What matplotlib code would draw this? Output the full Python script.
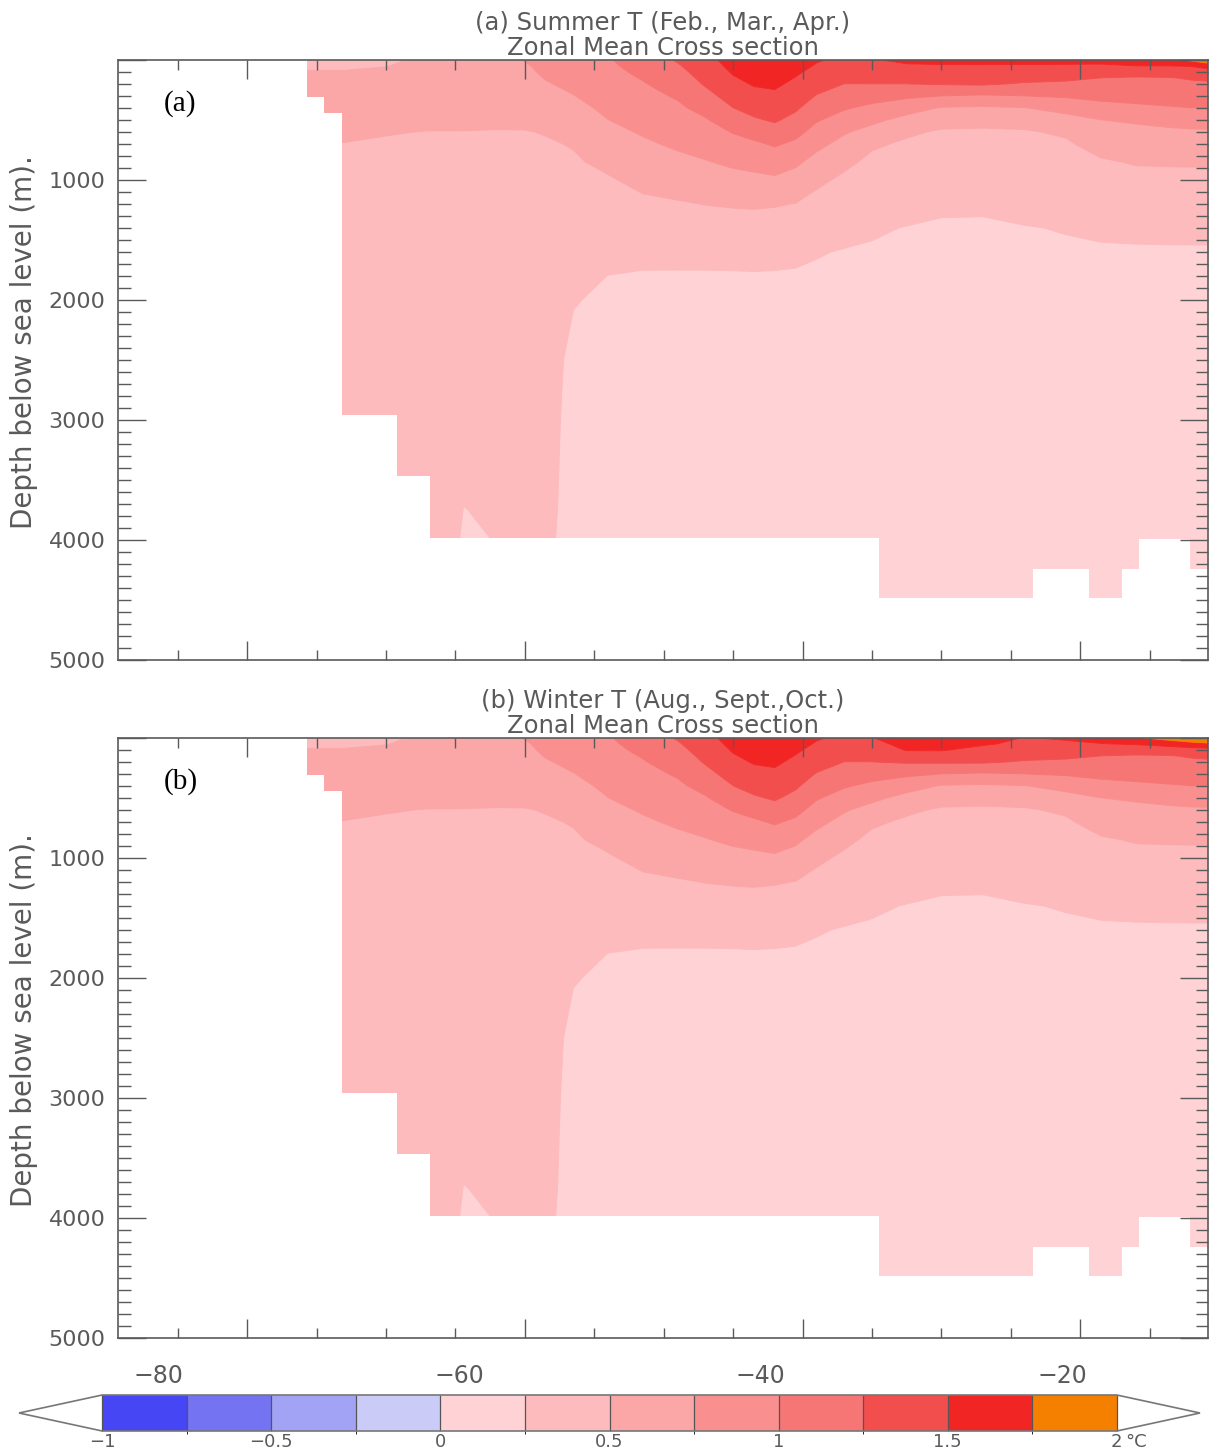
import numpy as np
import matplotlib
matplotlib.use("Agg")
import matplotlib.pyplot as plt
from matplotlib.colors import ListedColormap, BoundaryNorm
from matplotlib.ticker import MultipleLocator

# ---------------- data ----------------
# latitude columns (deg) of the temperature table
lat = [-76, -73, -70, -67, -65, -64.4, -62, -60, -58.5, -56.5,
       -54, -51.5, -49, -47, -45, -43.5, -42, -40.5, -39, -37,
       -35, -32.5, -30, -27, -24, -21, -18.5, -16, -13.5, -12, -10.5]

# depth rows (m)
depth_upper = [0, 50, 100, 150, 200, 300, 400, 500, 600, 700, 850, 1000]
depth_deep = [1200, 1400, 1600, 1800, 2000, 2500, 3000, 3500, 3750, 4000, 4600]

# upper-ocean temperature anomaly (deg C), one list per latitude column
summer_upper = [
    [0.40, 0.45, 0.52, 0.58, 0.61, 0.62, 0.60, 0.57, 0.535, 0.495, 0.47, 0.45],
    [0.40, 0.45, 0.52, 0.58, 0.61, 0.62, 0.60, 0.57, 0.535, 0.495, 0.47, 0.45],
    [0.45, 0.49, 0.56, 0.60, 0.62, 0.62, 0.60, 0.56, 0.51, 0.48, 0.45, 0.43],
    [0.56, 0.60, 0.62, 0.63, 0.63, 0.62, 0.60, 0.55, 0.495, 0.47, 0.45, 0.43],
    [0.62, 0.64, 0.65, 0.65, 0.64, 0.62, 0.59, 0.55, 0.495, 0.47, 0.44, 0.42],
    [0.64, 0.65, 0.66, 0.65, 0.64, 0.62, 0.59, 0.545, 0.495, 0.47, 0.44, 0.42],
    [0.68, 0.68, 0.67, 0.66, 0.65, 0.62, 0.59, 0.54, 0.49, 0.46, 0.44, 0.42],
    [0.76, 0.72, 0.70, 0.68, 0.66, 0.63, 0.60, 0.55, 0.49, 0.47, 0.44, 0.42],
    [0.85, 0.82, 0.79, 0.76, 0.733, 0.678, 0.622, 0.567, 0.511, 0.48, 0.45, 0.43],
    [0.90, 0.874, 0.848, 0.821, 0.797, 0.744, 0.686, 0.628, 0.57, 0.512, 0.476, 0.447],
    [0.98, 0.957, 0.934, 0.91, 0.888, 0.842, 0.796, 0.748, 0.692, 0.634, 0.547, 0.48],
    [1.12, 1.085, 1.05, 1.015, 0.984, 0.931, 0.878, 0.824, 0.771, 0.717, 0.636, 0.554],
    [1.27, 1.226, 1.185, 1.145, 1.105, 1.024, 0.959, 0.901, 0.843, 0.785, 0.694, 0.60],
    [1.42, 1.383, 1.346, 1.309, 1.272, 1.177, 1.073, 0.979, 0.91, 0.84, 0.737, 0.638],
    [1.60, 1.562, 1.523, 1.481, 1.435, 1.343, 1.248, 1.131, 1.012, 0.922, 0.793, 0.673],
    [1.68, 1.64, 1.60, 1.56, 1.52, 1.426, 1.328, 1.222, 1.083, 0.963, 0.824, 0.692],
    [1.70, 1.66, 1.62, 1.58, 1.54, 1.455, 1.366, 1.277, 1.158, 1.026, 0.865, 0.712],
    [1.62, 1.577, 1.534, 1.492, 1.45, 1.367, 1.283, 1.182, 1.068, 0.957, 0.793, 0.658],
    [1.52, 1.481, 1.433, 1.385, 1.337, 1.239, 1.13, 1.022, 0.917, 0.813, 0.672, 0.543],
    [1.45, 1.40, 1.35, 1.30, 1.248, 1.136, 1.023, 0.90, 0.773, 0.679, 0.545, 0.462],
    [1.48, 1.423, 1.365, 1.308, 1.248, 1.094, 0.944, 0.806, 0.667, 0.528, 0.455, 0.404],
    [1.55, 1.471, 1.397, 1.324, 1.248, 1.042, 0.846, 0.676, 0.529, 0.473, 0.423, 0.373],
    [1.55, 1.485, 1.412, 1.338, 1.265, 0.998, 0.733, 0.567, 0.479, 0.444, 0.392, 0.34],
    [1.55, 1.486, 1.417, 1.347, 1.278, 0.972, 0.717, 0.55, 0.476, 0.441, 0.389, 0.337],
    [1.55, 1.483, 1.40, 1.317, 1.227, 0.998, 0.742, 0.575, 0.482, 0.451, 0.403, 0.355],
    [1.55, 1.481, 1.389, 1.296, 1.205, 1.027, 0.83, 0.667, 0.528, 0.475, 0.428, 0.381],
    [1.55, 1.477, 1.364, 1.248, 1.188, 1.063, 0.917, 0.748, 0.664, 0.578, 0.478, 0.422],
    [1.60, 1.497, 1.344, 1.23, 1.179, 1.077, 0.956, 0.78, 0.691, 0.62, 0.514, 0.446],
    [1.70, 1.497, 1.361, 1.24, 1.19, 1.09, 0.984, 0.823, 0.708, 0.633, 0.519, 0.448],
    [1.80, 1.51, 1.386, 1.273, 1.208, 1.104, 0.998, 0.844, 0.718, 0.639, 0.52, 0.449],
    [1.95, 1.62, 1.409, 1.295, 1.217, 1.109, 0.998, 0.85, 0.723, 0.642, 0.52, 0.449],
]

winter_upper = [
    [0.40, 0.45, 0.52, 0.58, 0.61, 0.62, 0.60, 0.57, 0.535, 0.495, 0.47, 0.45],
    [0.40, 0.45, 0.52, 0.58, 0.61, 0.62, 0.60, 0.57, 0.535, 0.495, 0.47, 0.45],
    [0.45, 0.49, 0.56, 0.60, 0.62, 0.62, 0.60, 0.56, 0.51, 0.48, 0.45, 0.43],
    [0.56, 0.60, 0.62, 0.63, 0.63, 0.62, 0.60, 0.55, 0.495, 0.47, 0.45, 0.43],
    [0.62, 0.64, 0.65, 0.65, 0.64, 0.62, 0.59, 0.55, 0.495, 0.47, 0.44, 0.42],
    [0.64, 0.65, 0.66, 0.65, 0.64, 0.62, 0.59, 0.545, 0.495, 0.47, 0.44, 0.42],
    [0.68, 0.68, 0.67, 0.66, 0.65, 0.62, 0.59, 0.54, 0.49, 0.46, 0.44, 0.42],
    [0.76, 0.72, 0.70, 0.68, 0.66, 0.63, 0.60, 0.55, 0.49, 0.47, 0.44, 0.42],
    [0.85, 0.82, 0.79, 0.76, 0.733, 0.678, 0.622, 0.567, 0.511, 0.48, 0.45, 0.43],
    [0.90, 0.874, 0.848, 0.821, 0.797, 0.744, 0.686, 0.628, 0.57, 0.512, 0.476, 0.447],
    [0.98, 0.957, 0.934, 0.91, 0.888, 0.842, 0.796, 0.748, 0.692, 0.634, 0.547, 0.48],
    [1.12, 1.085, 1.05, 1.015, 0.984, 0.931, 0.878, 0.824, 0.771, 0.717, 0.636, 0.554],
    [1.27, 1.226, 1.185, 1.145, 1.105, 1.024, 0.959, 0.901, 0.843, 0.785, 0.694, 0.60],
    [1.42, 1.383, 1.346, 1.309, 1.272, 1.177, 1.073, 0.979, 0.91, 0.84, 0.737, 0.638],
    [1.60, 1.562, 1.523, 1.481, 1.435, 1.343, 1.248, 1.131, 1.012, 0.922, 0.793, 0.673],
    [1.68, 1.64, 1.60, 1.56, 1.52, 1.426, 1.328, 1.222, 1.083, 0.963, 0.824, 0.692],
    [1.70, 1.66, 1.62, 1.58, 1.54, 1.455, 1.366, 1.277, 1.158, 1.026, 0.865, 0.712],
    [1.62, 1.577, 1.534, 1.492, 1.45, 1.367, 1.283, 1.182, 1.068, 0.957, 0.793, 0.658],
    [1.52, 1.481, 1.433, 1.385, 1.337, 1.239, 1.13, 1.022, 0.917, 0.813, 0.672, 0.543],
    [1.45, 1.40, 1.35, 1.30, 1.248, 1.136, 1.023, 0.90, 0.773, 0.679, 0.545, 0.462],
    [1.49, 1.423, 1.365, 1.308, 1.248, 1.094, 0.944, 0.806, 0.667, 0.528, 0.455, 0.404],
    [1.64, 1.576, 1.513, 1.40, 1.275, 1.045, 0.846, 0.676, 0.529, 0.473, 0.423, 0.373],
    [1.65, 1.58, 1.515, 1.40, 1.28, 0.998, 0.733, 0.567, 0.479, 0.444, 0.392, 0.34],
    [1.58, 1.52, 1.44, 1.36, 1.28, 0.972, 0.717, 0.55, 0.476, 0.441, 0.389, 0.337],
    [1.49, 1.46, 1.40, 1.317, 1.227, 0.998, 0.742, 0.575, 0.482, 0.451, 0.403, 0.355],
    [1.52, 1.47, 1.389, 1.296, 1.205, 1.027, 0.83, 0.667, 0.528, 0.475, 0.428, 0.381],
    [1.60, 1.49, 1.364, 1.248, 1.188, 1.063, 0.917, 0.748, 0.664, 0.578, 0.478, 0.422],
    [1.72, 1.52, 1.344, 1.23, 1.179, 1.077, 0.956, 0.78, 0.691, 0.62, 0.514, 0.446],
    [1.85, 1.60, 1.361, 1.24, 1.19, 1.09, 0.984, 0.823, 0.708, 0.633, 0.519, 0.448],
    [1.90, 1.68, 1.386, 1.273, 1.208, 1.104, 0.998, 0.844, 0.718, 0.639, 0.52, 0.449],
    [1.95, 1.72, 1.409, 1.295, 1.217, 1.109, 0.998, 0.85, 0.723, 0.642, 0.52, 0.449],
]

# deep-ocean temperature anomaly (deg C), same in both seasons
deep_both = [
    [0.41, 0.39, 0.37, 0.36, 0.35, 0.34, 0.33, 0.32, 0.31, 0.30, 0.30],
    [0.41, 0.39, 0.37, 0.36, 0.35, 0.34, 0.33, 0.32, 0.31, 0.30, 0.30],
    [0.41, 0.39, 0.37, 0.36, 0.35, 0.34, 0.33, 0.32, 0.31, 0.30, 0.30],
    [0.41, 0.39, 0.37, 0.36, 0.35, 0.34, 0.33, 0.32, 0.31, 0.30, 0.30],
    [0.41, 0.39, 0.37, 0.36, 0.35, 0.34, 0.33, 0.32, 0.31, 0.30, 0.30],
    [0.41, 0.39, 0.37, 0.36, 0.35, 0.34, 0.33, 0.29, 0.245, 0.20, 0.20],
    [0.41, 0.39, 0.37, 0.36, 0.35, 0.34, 0.33, 0.31, 0.285, 0.26, 0.26],
    [0.41, 0.39, 0.37, 0.36, 0.35, 0.34, 0.33, 0.32, 0.31, 0.30, 0.30],
    [0.41, 0.39, 0.37, 0.36, 0.35, 0.34, 0.33, 0.32, 0.31, 0.30, 0.30],
    [0.41, 0.372, 0.335, 0.297, 0.26, 0.20, 0.18, 0.17, 0.17, 0.16, 0.16],
    [0.422, 0.365, 0.307, 0.248, 0.22, 0.19, 0.17, 0.16, 0.16, 0.15, 0.15],
    [0.46, 0.379, 0.298, 0.235, 0.21, 0.18, 0.17, 0.16, 0.16, 0.15, 0.15],
    [0.481, 0.389, 0.296, 0.235, 0.21, 0.18, 0.17, 0.16, 0.16, 0.15, 0.15],
    [0.505, 0.401, 0.297, 0.235, 0.21, 0.18, 0.17, 0.16, 0.16, 0.15, 0.15],
    [0.519, 0.408, 0.303, 0.235, 0.21, 0.18, 0.17, 0.16, 0.16, 0.15, 0.15],
    [0.525, 0.412, 0.308, 0.237, 0.21, 0.18, 0.17, 0.16, 0.16, 0.15, 0.15],
    [0.515, 0.406, 0.302, 0.235, 0.21, 0.18, 0.17, 0.16, 0.16, 0.15, 0.15],
    [0.495, 0.393, 0.291, 0.23, 0.21, 0.18, 0.17, 0.16, 0.16, 0.15, 0.15],
    [0.435, 0.348, 0.261, 0.225, 0.21, 0.18, 0.17, 0.16, 0.16, 0.15, 0.15],
    [0.385, 0.308, 0.24, 0.22, 0.20, 0.18, 0.17, 0.16, 0.16, 0.15, 0.15],
    [0.336, 0.267, 0.235, 0.22, 0.20, 0.19, 0.18, 0.17, 0.17, 0.16, 0.16],
    [0.307, 0.245, 0.23, 0.22, 0.20, 0.19, 0.18, 0.17, 0.17, 0.16, 0.16],
    [0.27, 0.235, 0.225, 0.215, 0.20, 0.19, 0.18, 0.17, 0.17, 0.16, 0.16],
    [0.267, 0.235, 0.225, 0.215, 0.20, 0.19, 0.18, 0.17, 0.17, 0.16, 0.16],
    [0.291, 0.245, 0.23, 0.22, 0.20, 0.19, 0.18, 0.17, 0.17, 0.16, 0.16],
    [0.319, 0.256, 0.235, 0.22, 0.20, 0.19, 0.18, 0.17, 0.17, 0.16, 0.16],
    [0.347, 0.272, 0.235, 0.22, 0.20, 0.19, 0.18, 0.17, 0.17, 0.16, 0.16],
    [0.364, 0.281, 0.235, 0.22, 0.20, 0.19, 0.18, 0.17, 0.17, 0.16, 0.16],
    [0.366, 0.283, 0.236, 0.22, 0.20, 0.19, 0.18, 0.17, 0.17, 0.16, 0.16],
    [0.366, 0.284, 0.236, 0.22, 0.20, 0.19, 0.18, 0.17, 0.17, 0.16, 0.16],
    [0.366, 0.284, 0.236, 0.22, 0.20, 0.19, 0.18, 0.17, 0.17, 0.16, 0.16],
]

# sea floor (step profile): latitude where each segment starts, and its depth (m)
floor_lat = [-89.3, -75.7, -74.46, -73.16, -69.2, -66.8, -34.5, -23.4, -19.4, -17.0, -15.8, -12.1, -10.8]
floor_depth = [0, 310, 440, 2960, 3470, 3980, 4480, 4240, 4480, 4240, 3990, 4240, 4240]

# colour scale
levels = [-1, -0.75, -0.5, -0.25, 0, 0.25, 0.5, 0.75, 1, 1.25, 1.5, 1.75, 2]
level_colors = ['#4646F5', '#7474F2', '#A3A3F5', '#CBCBF7', '#FFD3D5', '#FDBBBE',
                '#FBA6A7', '#F98F8F', '#F67575', '#F24E4E', '#F22525', '#F58000']
cbar_ticks = [-1, -0.5, 0, 0.5, 1, 1.5, 2]
cbar_ticklabels = ['\u22121', '\u22120.5', '0', '0.5', '1', '1.5', '2']
cbar_unit = '\u00b0C'

lat_ticklabels = ['\u221280', '\u221260', '\u221240', '\u221220']
lat_labelled = [-80, -60, -40, -20]

titles = ['(a) Summer T (Feb., Mar., Apr.)\nZonal Mean Cross section',
          '(b) Winter T (Aug., Sept.,Oct.)\nZonal Mean Cross section']
tags = ['(a)', '(b)']

# ---------------- figure ----------------
W, H = 1212, 1456
fig = plt.figure(figsize=(W / 100, H / 100), dpi=100)
fig.patch.set_facecolor('white')

cmap = ListedColormap(level_colors)
cmap.set_under('white')
cmap.set_over('white')
norm = BoundaryNorm(levels, ncolors=len(level_colors))

GRAY = '#5a5a5a'
depths = depth_upper + depth_deep

panel_tops = [60, 738]
fields = [summer_upper, winter_upper]
cs = None
for k in range(2):
    top = panel_tops[k]
    ax = fig.add_axes([118 / W, 1 - (top + 600) / H, 1090 / W, 600 / H])
    field = np.hstack([np.array(fields[k]), np.array(deep_both)]).T  # depth x lat
    cs = ax.contourf(lat, depths, field, levels=levels, cmap=cmap, norm=norm,
                     extend='both', antialiased=True, zorder=1)
    cs.set_edgecolor('face')
    cs.set_linewidth(0.6)
    ax.fill_between(floor_lat, floor_depth, 5000, step='post', color='white',
                    linewidth=0, zorder=1.1)
    ax.set_xlim(-89.3, -10.8)
    ax.set_ylim(5000, 0)
    ax.set_xticks(lat_labelled)
    ax.set_xticks(np.arange(-85, -10, 5), minor=True)
    ax.set_xticklabels([])
    ax.set_yticks([0, 1000, 2000, 3000, 4000, 5000])
    ax.set_yticklabels(['', '1000', '2000', '3000', '4000', '5000'])
    ax.yaxis.set_minor_locator(MultipleLocator(100))
    ax.tick_params(which='both', direction='in', top=True, right=True,
                   color=GRAY, labelcolor=GRAY, width=1.0)
    ax.tick_params(axis='y', which='major', length=20, labelsize=16, pad=9)
    ax.tick_params(axis='y', which='minor', length=9)
    ax.tick_params(axis='x', which='major', length=14)
    ax.tick_params(axis='x', which='minor', length=7)
    for s in ax.spines.values():
        s.set_color(GRAY)
        s.set_linewidth(1.2)
    ax.set_title(titles[k], fontsize=17.5, color=GRAY, pad=2, linespacing=1.05)
    ax.set_ylabel('Depth below sea level (m).', fontsize=20, color=GRAY)
    ax.yaxis.set_label_coords(-0.073, 0.53)
    ax.text(-84.8, 360, tags[k], family='Liberation Serif', fontsize=21,
            color='black', ha='center', va='center', zorder=5)

# latitude labels under the lower panel
axl = fig.add_axes([118 / W, 1 - 1364 / H, 1090 / W, 0.0001])
axl.set_xlim(-82.66, -10.31)
axl.set_xticks(lat_labelled)
axl.set_xticklabels(lat_ticklabels)
axl.set_yticks([])
axl.tick_params(axis='x', length=0, pad=0, labelsize=17, labelcolor=GRAY)
for s in axl.spines.values():
    s.set_visible(False)
axl.patch.set_visible(False)

# colour bar
cax = fig.add_axes([19 / W, 1 - 1431 / H, 1181 / W, 36 / H])
cb = fig.colorbar(cs, cax=cax, orientation='horizontal', extendfrac=0.082,
                  drawedges=True, ticks=cbar_ticks)
cb.set_ticklabels(cbar_ticklabels)
cb.outline.set_edgecolor('#777777')
cb.outline.set_linewidth(1.2)
cb.dividers.set_color('#555555')
cb.dividers.set_linewidth(0.9)
cax.tick_params(length=0, pad=1.5, labelsize=13, labelcolor=GRAY)
cax.annotate(cbar_unit, xy=(2, 0), xycoords=cax.get_xaxis_transform(),
             xytext=(6, -1.5), textcoords='offset points',
             fontsize=13, color=GRAY, ha='left', va='top')

fig.savefig('out.png', dpi=100, facecolor='white')
